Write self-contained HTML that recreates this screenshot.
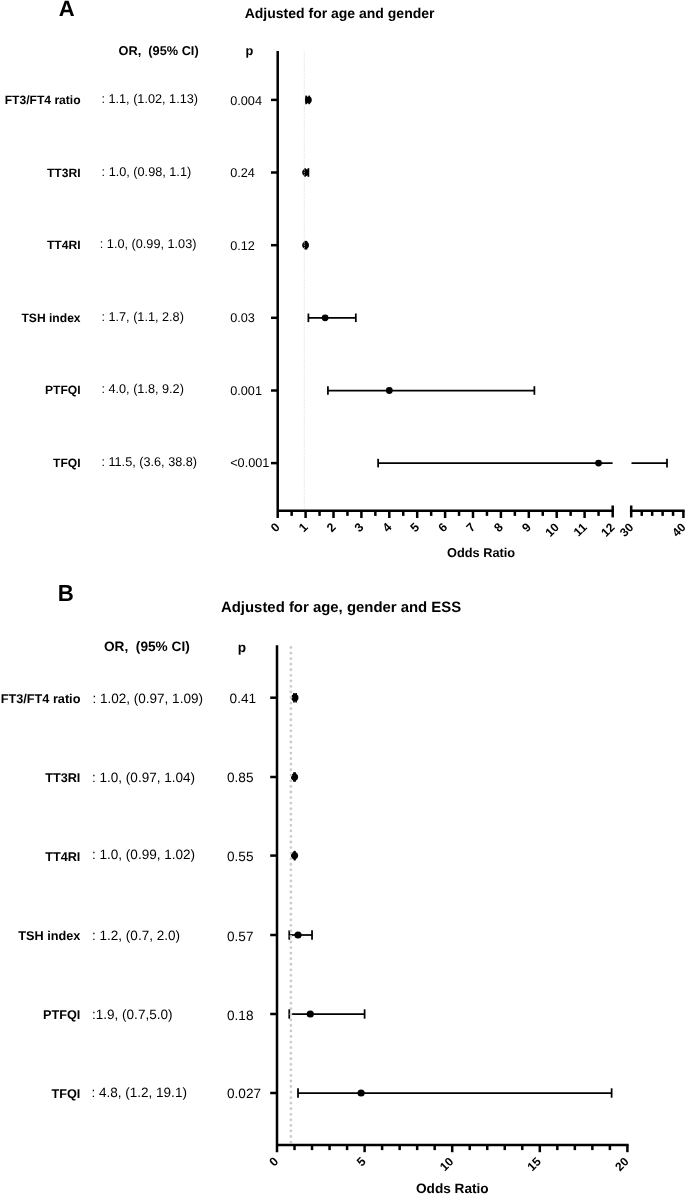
<!DOCTYPE html>
<html lang="en"><head><meta charset="utf-8"><title>Forest plot</title>
<style>
html,body{margin:0;padding:0;background:#fff;}
svg{display:block;font-family:"Liberation Sans", Arial, Helvetica, sans-serif;fill:#000;text-rendering:geometricPrecision;}
</style></head><body>
<svg width="685" height="1194" viewBox="0 0 685 1194">
<rect x="0" y="0" width="685" height="1194" fill="#fff"/>
<text x="58.8" y="15.7" font-size="22" font-weight="bold">A</text>
<text x="244.7" y="18.3" font-size="14.0" font-weight="bold">Adjusted for age and gender</text>
<text x="118.6" y="55.4" font-size="12.75" font-weight="bold" xml:space="preserve" style="white-space:pre">OR,  (95% CI)</text>
<text x="245.5" y="55.3" font-size="12.75" font-weight="bold">p</text>
<text x="80.6" y="104" font-size="12.1" font-weight="bold" text-anchor="end">FT3/FT4 ratio</text>
<text x="101.4" y="103.4" font-size="12.7">: 1.1, (1.02, 1.13)</text>
<text x="230.2" y="104.9" font-size="12.7">0.004</text>
<line x1="271" y1="99.9" x2="277.7" y2="99.9" stroke="#000" stroke-width="2.5"/>
<line x1="306.158" y1="99.9" x2="309.227" y2="99.9" stroke="#000" stroke-width="1.75"/>
<line x1="306.158" y1="95.60000000000001" x2="306.158" y2="104.2" stroke="#000" stroke-width="1.75"/>
<line x1="309.227" y1="95.60000000000001" x2="309.227" y2="104.2" stroke="#000" stroke-width="1.75"/>
<circle cx="308.39" cy="99.9" r="3.4" fill="#000"/>
<text x="80.6" y="176.5" font-size="12.1" font-weight="bold" text-anchor="end">TT3RI</text>
<text x="101.6" y="175.9" font-size="12.7">: 1.0, (0.98, 1.1)</text>
<text x="230.2" y="177.4" font-size="12.7">0.24</text>
<line x1="271" y1="172.5" x2="277.7" y2="172.5" stroke="#000" stroke-width="2.5"/>
<line x1="305.042" y1="172.5" x2="308.39" y2="172.5" stroke="#000" stroke-width="1.75"/>
<line x1="305.042" y1="168.2" x2="305.042" y2="176.8" stroke="#000" stroke-width="1.75"/>
<line x1="308.39" y1="168.2" x2="308.39" y2="176.8" stroke="#000" stroke-width="1.75"/>
<circle cx="305.59999999999997" cy="172.5" r="3.4" fill="#000"/>
<text x="80.6" y="249" font-size="12.1" font-weight="bold" text-anchor="end">TT4RI</text>
<text x="99.8" y="248.4" font-size="12.7">: 1.0, (0.99, 1.03)</text>
<text x="230.2" y="249.9" font-size="12.7">0.12</text>
<line x1="271" y1="245.2" x2="277.7" y2="245.2" stroke="#000" stroke-width="2.5"/>
<line x1="305.32099999999997" y1="245.2" x2="306.437" y2="245.2" stroke="#000" stroke-width="1.75"/>
<line x1="305.32099999999997" y1="240.89999999999998" x2="305.32099999999997" y2="249.5" stroke="#000" stroke-width="1.75"/>
<line x1="306.437" y1="240.89999999999998" x2="306.437" y2="249.5" stroke="#000" stroke-width="1.75"/>
<circle cx="305.59999999999997" cy="245.2" r="3.4" fill="#000"/>
<text x="80.6" y="321.5" font-size="12.1" font-weight="bold" text-anchor="end">TSH index</text>
<text x="101.4" y="320.9" font-size="12.7">: 1.7, (1.1, 2.8)</text>
<text x="230.2" y="322.4" font-size="12.7">0.03</text>
<line x1="271" y1="317.8" x2="277.7" y2="317.8" stroke="#000" stroke-width="2.5"/>
<line x1="308.39" y1="317.8" x2="355.82" y2="317.8" stroke="#000" stroke-width="1.75"/>
<line x1="308.39" y1="313.5" x2="308.39" y2="322.1" stroke="#000" stroke-width="1.75"/>
<line x1="355.82" y1="313.5" x2="355.82" y2="322.1" stroke="#000" stroke-width="1.75"/>
<circle cx="325.13" cy="317.8" r="3.4" fill="#000"/>
<text x="80.6" y="394" font-size="12.1" font-weight="bold" text-anchor="end">PTFQI</text>
<text x="101.4" y="393.4" font-size="12.7">: 4.0, (1.8, 9.2)</text>
<text x="230.2" y="394.9" font-size="12.7">0.001</text>
<line x1="271" y1="390.5" x2="277.7" y2="390.5" stroke="#000" stroke-width="2.5"/>
<line x1="327.91999999999996" y1="390.5" x2="534.3799999999999" y2="390.5" stroke="#000" stroke-width="1.75"/>
<line x1="327.91999999999996" y1="386.2" x2="327.91999999999996" y2="394.8" stroke="#000" stroke-width="1.75"/>
<line x1="534.3799999999999" y1="386.2" x2="534.3799999999999" y2="394.8" stroke="#000" stroke-width="1.75"/>
<circle cx="389.29999999999995" cy="390.5" r="3.4" fill="#000"/>
<text x="80.6" y="466.5" font-size="12.1" font-weight="bold" text-anchor="end">TFQI</text>
<text x="101.4" y="465.9" font-size="12.7">: 11.5, (3.6, 38.8)</text>
<text x="230.2" y="467.4" font-size="12.7">&lt;0.001</text>
<line x1="271" y1="463.1" x2="277.7" y2="463.1" stroke="#000" stroke-width="2.5"/>
<line x1="378.14" y1="463.1" x2="612.6" y2="463.1" stroke="#000" stroke-width="1.75"/>
<line x1="631.5" y1="463.1" x2="667.0" y2="463.1" stroke="#000" stroke-width="1.75"/>
<line x1="378.14" y1="458.8" x2="378.14" y2="467.40000000000003" stroke="#000" stroke-width="1.75"/>
<line x1="667.0" y1="458.8" x2="667.0" y2="467.40000000000003" stroke="#000" stroke-width="1.75"/>
<circle cx="598.55" cy="463.1" r="3.4" fill="#000"/>
<line x1="304.3" y1="52.0" x2="304.3" y2="509.6" stroke="#d8d8d8" stroke-width="0.8" stroke-dasharray="1.2 1.15"/>
<line x1="277.7" y1="51" x2="277.7" y2="518.0" stroke="#000" stroke-width="2.5"/>
<line x1="277.7" y1="510.8" x2="613.95" y2="510.8" stroke="#000" stroke-width="2.5"/>
<line x1="629.95" y1="510.8" x2="684.65" y2="510.8" stroke="#000" stroke-width="2.5"/>
<line x1="291.65" y1="510.8" x2="291.65" y2="515.9" stroke="#000" stroke-width="2.5"/>
<text x="280.7" y="528.0" font-size="12.3" font-weight="bold" text-anchor="end" transform="rotate(-45 280.7 528.0)">0</text>
<line x1="305.59999999999997" y1="510.8" x2="305.59999999999997" y2="518.0" stroke="#000" stroke-width="2.5"/>
<line x1="319.54999999999995" y1="510.8" x2="319.54999999999995" y2="515.9" stroke="#000" stroke-width="2.5"/>
<text x="308.6" y="528.0" font-size="12.3" font-weight="bold" text-anchor="end" transform="rotate(-45 308.6 528.0)">1</text>
<line x1="333.5" y1="510.8" x2="333.5" y2="518.0" stroke="#000" stroke-width="2.5"/>
<line x1="347.45" y1="510.8" x2="347.45" y2="515.9" stroke="#000" stroke-width="2.5"/>
<text x="336.5" y="528.0" font-size="12.3" font-weight="bold" text-anchor="end" transform="rotate(-45 336.5 528.0)">2</text>
<line x1="361.4" y1="510.8" x2="361.4" y2="518.0" stroke="#000" stroke-width="2.5"/>
<line x1="375.34999999999997" y1="510.8" x2="375.34999999999997" y2="515.9" stroke="#000" stroke-width="2.5"/>
<text x="364.4" y="528.0" font-size="12.3" font-weight="bold" text-anchor="end" transform="rotate(-45 364.4 528.0)">3</text>
<line x1="389.29999999999995" y1="510.8" x2="389.29999999999995" y2="518.0" stroke="#000" stroke-width="2.5"/>
<line x1="403.24999999999994" y1="510.8" x2="403.24999999999994" y2="515.9" stroke="#000" stroke-width="2.5"/>
<text x="392.3" y="528.0" font-size="12.3" font-weight="bold" text-anchor="end" transform="rotate(-45 392.3 528.0)">4</text>
<line x1="417.2" y1="510.8" x2="417.2" y2="518.0" stroke="#000" stroke-width="2.5"/>
<line x1="431.15" y1="510.8" x2="431.15" y2="515.9" stroke="#000" stroke-width="2.5"/>
<text x="420.2" y="528.0" font-size="12.3" font-weight="bold" text-anchor="end" transform="rotate(-45 420.2 528.0)">5</text>
<line x1="445.09999999999997" y1="510.8" x2="445.09999999999997" y2="518.0" stroke="#000" stroke-width="2.5"/>
<line x1="459.04999999999995" y1="510.8" x2="459.04999999999995" y2="515.9" stroke="#000" stroke-width="2.5"/>
<text x="448.1" y="528.0" font-size="12.3" font-weight="bold" text-anchor="end" transform="rotate(-45 448.1 528.0)">6</text>
<line x1="473.0" y1="510.8" x2="473.0" y2="518.0" stroke="#000" stroke-width="2.5"/>
<line x1="486.95" y1="510.8" x2="486.95" y2="515.9" stroke="#000" stroke-width="2.5"/>
<text x="476.0" y="528.0" font-size="12.3" font-weight="bold" text-anchor="end" transform="rotate(-45 476.0 528.0)">7</text>
<line x1="500.9" y1="510.8" x2="500.9" y2="518.0" stroke="#000" stroke-width="2.5"/>
<line x1="514.85" y1="510.8" x2="514.85" y2="515.9" stroke="#000" stroke-width="2.5"/>
<text x="503.9" y="528.0" font-size="12.3" font-weight="bold" text-anchor="end" transform="rotate(-45 503.9 528.0)">8</text>
<line x1="528.8" y1="510.8" x2="528.8" y2="518.0" stroke="#000" stroke-width="2.5"/>
<line x1="542.75" y1="510.8" x2="542.75" y2="515.9" stroke="#000" stroke-width="2.5"/>
<text x="531.8" y="528.0" font-size="12.3" font-weight="bold" text-anchor="end" transform="rotate(-45 531.8 528.0)">9</text>
<line x1="556.7" y1="510.8" x2="556.7" y2="518.0" stroke="#000" stroke-width="2.5"/>
<line x1="570.6500000000001" y1="510.8" x2="570.6500000000001" y2="515.9" stroke="#000" stroke-width="2.5"/>
<text x="559.7" y="528.0" font-size="12.0" font-weight="bold" text-anchor="end" transform="rotate(-45 559.7 528.0)">10</text>
<line x1="584.5999999999999" y1="510.8" x2="584.5999999999999" y2="518.0" stroke="#000" stroke-width="2.5"/>
<line x1="598.55" y1="510.8" x2="598.55" y2="515.9" stroke="#000" stroke-width="2.5"/>
<text x="587.6" y="528.0" font-size="12.0" font-weight="bold" text-anchor="end" transform="rotate(-45 587.6 528.0)">11</text>
<text x="615.5" y="528.0" font-size="12.0" font-weight="bold" text-anchor="end" transform="rotate(-45 615.5 528.0)">12</text>
<line x1="612.7" y1="505.5" x2="612.7" y2="517.4" stroke="#000" stroke-width="2.5"/>
<line x1="631.2" y1="505.5" x2="631.2" y2="517.4" stroke="#000" stroke-width="2.5"/>
<line x1="641.74" y1="510.8" x2="641.74" y2="515.9" stroke="#000" stroke-width="2.5"/>
<line x1="652.18" y1="510.8" x2="652.18" y2="515.9" stroke="#000" stroke-width="2.5"/>
<line x1="662.62" y1="510.8" x2="662.62" y2="515.9" stroke="#000" stroke-width="2.5"/>
<line x1="673.06" y1="510.8" x2="673.06" y2="515.9" stroke="#000" stroke-width="2.5"/>
<line x1="683.4" y1="510.8" x2="683.4" y2="518.0" stroke="#000" stroke-width="2.5"/>
<text x="634.3" y="528.0" font-size="12.0" font-weight="bold" text-anchor="end" transform="rotate(-45 634.3 528.0)">30</text>
<text x="686.5" y="528.0" font-size="12.0" font-weight="bold" text-anchor="end" transform="rotate(-45 686.5 528.0)">40</text>
<text x="447" y="557" font-size="12.77" font-weight="bold">Odds Ratio</text>
<text x="0" y="0" font-size="23.4" font-weight="bold" transform="translate(57.8 600.7) scale(0.95 1)">B</text>
<text x="221" y="612.4" font-size="14.92" font-weight="bold">Adjusted for age, gender and ESS</text>
<text x="104" y="651.3" font-size="13.67" font-weight="bold" xml:space="preserve" style="white-space:pre">OR,  (95% CI)</text>
<text x="237.8" y="651.5" font-size="13.67" font-weight="bold">p</text>
<text x="80.4" y="702.9" font-size="12.7" font-weight="bold" text-anchor="end">FT3/FT4 ratio</text>
<text x="92.4" y="702.9" font-size="13.54">: 1.02, (0.97, 1.09)</text>
<text x="229.6" y="702.9" font-size="13.6">0.41</text>
<line x1="270.2" y1="697.7" x2="277.0" y2="697.7" stroke="#000" stroke-width="2.5"/>
<line x1="293.9944" y1="697.7" x2="296.09680000000003" y2="697.7" stroke="#000" stroke-width="1.75"/>
<line x1="293.9944" y1="693.0" x2="293.9944" y2="702.4000000000001" stroke="#000" stroke-width="1.75"/>
<line x1="296.09680000000003" y1="693.0" x2="296.09680000000003" y2="702.4000000000001" stroke="#000" stroke-width="1.75"/>
<circle cx="294.8704" cy="697.7" r="3.6" fill="#000"/>
<text x="80.4" y="781.6999999999999" font-size="12.7" font-weight="bold" text-anchor="end">TT3RI</text>
<text x="92" y="781.6999999999999" font-size="13.54">: 1.0, (0.97, 1.04)</text>
<text x="227" y="781.6999999999999" font-size="13.6">0.85</text>
<line x1="270.2" y1="777.0" x2="277.0" y2="777.0" stroke="#000" stroke-width="2.5"/>
<line x1="293.9944" y1="777.0" x2="295.2208" y2="777.0" stroke="#000" stroke-width="1.75"/>
<line x1="293.9944" y1="772.3" x2="293.9944" y2="781.7" stroke="#000" stroke-width="1.75"/>
<line x1="295.2208" y1="772.3" x2="295.2208" y2="781.7" stroke="#000" stroke-width="1.75"/>
<circle cx="294.52" cy="777.0" r="3.6" fill="#000"/>
<text x="80.4" y="860.6" font-size="12.7" font-weight="bold" text-anchor="end">TT4RI</text>
<text x="92" y="858.6" font-size="13.54">: 1.0, (0.99, 1.02)</text>
<text x="227" y="860.6" font-size="13.6">0.55</text>
<line x1="270.2" y1="855.6" x2="277.0" y2="855.6" stroke="#000" stroke-width="2.5"/>
<line x1="294.3448" y1="855.6" x2="294.8704" y2="855.6" stroke="#000" stroke-width="1.75"/>
<line x1="294.3448" y1="850.9" x2="294.3448" y2="860.3000000000001" stroke="#000" stroke-width="1.75"/>
<line x1="294.8704" y1="850.9" x2="294.8704" y2="860.3000000000001" stroke="#000" stroke-width="1.75"/>
<circle cx="294.52" cy="855.6" r="3.6" fill="#000"/>
<text x="80.4" y="939.9" font-size="12.7" font-weight="bold" text-anchor="end">TSH index</text>
<text x="92" y="939.9" font-size="13.54">: 1.2, (0.7, 2.0)</text>
<text x="227" y="940.9" font-size="13.6">0.57</text>
<line x1="270.2" y1="935.0" x2="277.0" y2="935.0" stroke="#000" stroke-width="2.5"/>
<line x1="289.264" y1="935.0" x2="312.04" y2="935.0" stroke="#000" stroke-width="1.75"/>
<line x1="289.264" y1="930.3" x2="289.264" y2="939.7" stroke="#000" stroke-width="1.75"/>
<line x1="312.04" y1="930.3" x2="312.04" y2="939.7" stroke="#000" stroke-width="1.75"/>
<circle cx="298.024" cy="935.0" r="3.6" fill="#000"/>
<text x="80.4" y="1018.9" font-size="12.7" font-weight="bold" text-anchor="end">PTFQI</text>
<text x="92" y="1018.9" font-size="13.54">:1.9, (0.7,5.0)</text>
<text x="227" y="1019.9" font-size="13.6">0.18</text>
<line x1="270.2" y1="1014.0" x2="277.0" y2="1014.0" stroke="#000" stroke-width="2.5"/>
<line x1="289.264" y1="1014.0" x2="364.6" y2="1014.0" stroke="#000" stroke-width="1.75"/>
<line x1="289.264" y1="1009.3" x2="289.264" y2="1018.7" stroke="#000" stroke-width="1.75"/>
<line x1="364.6" y1="1009.3" x2="364.6" y2="1018.7" stroke="#000" stroke-width="1.75"/>
<circle cx="310.288" cy="1014.0" r="3.6" fill="#000"/>
<text x="80.4" y="1097.9" font-size="12.7" font-weight="bold" text-anchor="end">TFQI</text>
<text x="91.4" y="1097.1" font-size="13.54">: 4.8, (1.2, 19.1)</text>
<text x="227" y="1097.9" font-size="13.6">0.027</text>
<line x1="270.2" y1="1093.0" x2="277.0" y2="1093.0" stroke="#000" stroke-width="2.5"/>
<line x1="298.024" y1="1093.0" x2="611.6320000000001" y2="1093.0" stroke="#000" stroke-width="1.75"/>
<line x1="298.024" y1="1088.3" x2="298.024" y2="1097.7" stroke="#000" stroke-width="1.75"/>
<line x1="611.6320000000001" y1="1088.3" x2="611.6320000000001" y2="1097.7" stroke="#000" stroke-width="1.75"/>
<circle cx="361.096" cy="1093.0" r="3.6" fill="#000"/>
<line x1="290.9" y1="647.5" x2="290.9" y2="1142.3" stroke="#cbcbcb" stroke-width="2.8" stroke-dasharray="0.01 5.547" stroke-linecap="round"/>
<line x1="277.0" y1="645.3" x2="277.0" y2="1152.2" stroke="#000" stroke-width="2.5"/>
<line x1="277.0" y1="1145" x2="628.65" y2="1145" stroke="#000" stroke-width="2.5"/>
<text x="279.0" y="1162.2" font-size="12.3" font-weight="bold" text-anchor="end" transform="rotate(-45 279.0 1162.2)">0</text>
<line x1="294.52" y1="1145" x2="294.52" y2="1150.1" stroke="#000" stroke-width="2.5"/>
<line x1="312.04" y1="1145" x2="312.04" y2="1150.1" stroke="#000" stroke-width="2.5"/>
<line x1="329.56" y1="1145" x2="329.56" y2="1150.1" stroke="#000" stroke-width="2.5"/>
<line x1="347.08" y1="1145" x2="347.08" y2="1150.1" stroke="#000" stroke-width="2.5"/>
<line x1="364.6" y1="1145" x2="364.6" y2="1152.2" stroke="#000" stroke-width="2.5"/>
<text x="366.6" y="1162.2" font-size="12.3" font-weight="bold" text-anchor="end" transform="rotate(-45 366.6 1162.2)">5</text>
<line x1="382.12" y1="1145" x2="382.12" y2="1150.1" stroke="#000" stroke-width="2.5"/>
<line x1="399.64" y1="1145" x2="399.64" y2="1150.1" stroke="#000" stroke-width="2.5"/>
<line x1="417.15999999999997" y1="1145" x2="417.15999999999997" y2="1150.1" stroke="#000" stroke-width="2.5"/>
<line x1="434.68" y1="1145" x2="434.68" y2="1150.1" stroke="#000" stroke-width="2.5"/>
<line x1="452.2" y1="1145" x2="452.2" y2="1152.2" stroke="#000" stroke-width="2.5"/>
<text x="454.2" y="1162.2" font-size="12.0" font-weight="bold" text-anchor="end" transform="rotate(-45 454.2 1162.2)">10</text>
<line x1="469.72" y1="1145" x2="469.72" y2="1150.1" stroke="#000" stroke-width="2.5"/>
<line x1="487.24" y1="1145" x2="487.24" y2="1150.1" stroke="#000" stroke-width="2.5"/>
<line x1="504.76" y1="1145" x2="504.76" y2="1150.1" stroke="#000" stroke-width="2.5"/>
<line x1="522.28" y1="1145" x2="522.28" y2="1150.1" stroke="#000" stroke-width="2.5"/>
<line x1="539.8" y1="1145" x2="539.8" y2="1152.2" stroke="#000" stroke-width="2.5"/>
<text x="541.8" y="1162.2" font-size="12.0" font-weight="bold" text-anchor="end" transform="rotate(-45 541.8 1162.2)">15</text>
<line x1="557.3199999999999" y1="1145" x2="557.3199999999999" y2="1150.1" stroke="#000" stroke-width="2.5"/>
<line x1="574.8399999999999" y1="1145" x2="574.8399999999999" y2="1150.1" stroke="#000" stroke-width="2.5"/>
<line x1="592.36" y1="1145" x2="592.36" y2="1150.1" stroke="#000" stroke-width="2.5"/>
<line x1="609.88" y1="1145" x2="609.88" y2="1150.1" stroke="#000" stroke-width="2.5"/>
<line x1="627.4" y1="1145" x2="627.4" y2="1152.2" stroke="#000" stroke-width="2.5"/>
<text x="629.4" y="1162.2" font-size="12.0" font-weight="bold" text-anchor="end" transform="rotate(-45 629.4 1162.2)">20</text>
<text x="416" y="1192.5" font-size="13.64" font-weight="bold">Odds Ratio</text>
</svg>
</body></html>
